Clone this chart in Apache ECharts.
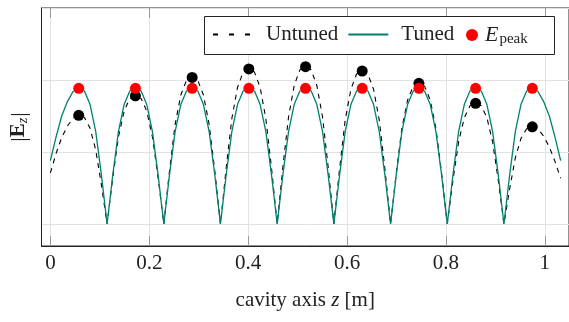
<!DOCTYPE html>
<html><head><meta charset="utf-8">
<script src="https://cdn.jsdelivr.net/npm/echarts@6/dist/echarts.min.js"></script>
<style>html,body{margin:0;padding:0;background:#fff}#c{width:569px;height:322px}</style>
</head><body><div id="c"></div>
<script>
// sample positions along the cavity axis z [m]
const zGrid = [
 0.0000,0.0115,0.0229,0.0344,0.0459,0.0573,0.0688,0.0803,0.0917,0.1032,
 0.1147,0.1261,0.1376,0.1491,0.1606,0.1720,0.1835,0.1950,0.2064,0.2179,
 0.2294,0.2408,0.2523,0.2638,0.2752,0.2867,0.2982,0.3096,0.3211,0.3326,
 0.3440,0.3555,0.3670,0.3784,0.3899,0.4014,0.4128,0.4243,0.4358,0.4473,
 0.4587,0.4702,0.4817,0.4931,0.5046,0.5161,0.5275,0.5390,0.5505,0.5619,
 0.5734,0.5849,0.5963,0.6078,0.6193,0.6307,0.6422,0.6537,0.6652,0.6766,
 0.6881,0.6995,0.7110,0.7225,0.7340,0.7454,0.7569,0.7684,0.7798,0.7913,
 0.8028,0.8142,0.8257,0.8372,0.8486,0.8601,0.8716,0.8830,0.8945,0.9060,
 0.9174,0.9289,0.9404,0.9518,0.9633,0.9748,0.9862,0.9977,1.0092,1.0206,
 1.0321];
// |E_z| of the tuned cavity (arbitrary units)
const tunedE = [
 0.88,1.21,1.50,1.70,1.84,1.885,1.847,1.659,1.282,0.679,
 0,0.679,1.282,1.659,1.847,1.885,1.847,1.659,1.282,0.679,
 0,0.679,1.282,1.659,1.847,1.885,1.847,1.659,1.282,0.679,
 0,0.679,1.282,1.659,1.847,1.885,1.847,1.659,1.282,0.679,
 0,0.679,1.282,1.659,1.847,1.885,1.847,1.659,1.282,0.679,
 0,0.679,1.282,1.659,1.847,1.885,1.847,1.659,1.282,0.679,
 0,0.679,1.282,1.659,1.847,1.885,1.847,1.659,1.282,0.679,
 0,0.679,1.282,1.659,1.847,1.885,1.847,1.659,1.282,0.679,
 0,0.679,1.282,1.659,1.847,1.885,1.84,1.70,1.50,1.21,
 0.88];
// |E_z| of the untuned cavity
const untunedE = [
 0.71,0.98,1.20,1.36,1.47,1.51,1.480,1.329,1.027,0.544,
 0,0.641,1.210,1.566,1.744,1.78,1.744,1.566,1.210,0.641,
 0,0.733,1.384,1.791,1.994,2.035,1.994,1.791,1.384,0.733,
 0,0.775,1.464,1.895,2.110,2.153,2.110,1.895,1.464,0.775,
 0,0.787,1.486,1.923,2.141,2.185,2.141,1.923,1.486,0.787,
 0,0.765,1.445,1.870,2.083,2.125,2.083,1.870,1.445,0.765,
 0,0.703,1.329,1.720,1.915,1.954,1.915,1.720,1.329,0.703,
 0,0.603,1.140,1.475,1.642,1.676,1.642,1.475,1.140,0.603,
 0,0.486,0.918,1.188,1.323,1.35,1.32,1.22,1.07,0.87,
 0.635];
// cell peaks
const peakZ = [0.0573,0.1720,0.2867,0.4014,0.5161,0.6307,0.7454,0.8601,0.9748];
const tunedPeak = [1.885,1.885,1.885,1.885,1.885,1.885,1.885,1.885,1.885];
const untunedPeak = [1.51,1.78,2.035,2.153,2.185,2.125,1.954,1.676,1.35];
// x tick values
const xTicks = [0, 0.2, 0.4, 0.6, 0.8, 1];

const F = 'Liberation Serif';
const pair = (xs, ys) => xs.map((x, i) => [x, ys[i]]);
const chart = echarts.init(document.getElementById('c'), null, {renderer: 'canvas'});
chart.setOption({
  animation: false,
  backgroundColor: '#fff',
  grid: {left: 41, top: 8, width: 532, height: 238, show: true, borderColor: '#222', borderWidth: 1, backgroundColor: 'transparent'},
  xAxis: [{
    type: 'value', min: -0.018, max: 1.049, splitNumber: 5, position: 'bottom',
    axisLine: {show: true, onZero: false, lineStyle: {color: '#222', width: 1}},
    axisTick: {show: true, inside: true, length: 10, customValues: xTicks, lineStyle: {color: '#999'}},
    axisLabel: {fontFamily: F, fontSize: 21, color: '#222', margin: 7, customValues: xTicks},
    splitLine: {show: true, lineStyle: {color: '#e2e2e2', width: 1}},
    name: '{r|cavity axis }{i|z}{r| [m]}', nameLocation: 'middle', nameGap: 44,
    nameTextStyle: {fontFamily: F, fontSize: 21, color: '#222',
      rich: {r: {fontFamily: F, fontSize: 21, color: '#222'}, i: {fontFamily: F, fontSize: 21, fontStyle: 'italic', color: '#222'}}}
  }, {
    type: 'value', min: -0.018, max: 1.049, splitNumber: 5, position: 'top',
    axisLine: {show: false, onZero: false},
    axisTick: {show: true, inside: true, length: 10, customValues: xTicks, lineStyle: {color: '#999'}},
    axisLabel: {show: false},
    splitLine: {show: false}
  }],
  yAxis: {
    type: 'value', min: -0.3056, max: 3.0, splitNumber: 4, position: 'left',
    axisLine: {show: true, onZero: false, lineStyle: {color: '#222', width: 1}},
    axisTick: {show: false},
    axisLabel: {show: false},
    splitLine: {show: true, lineStyle: {color: '#e2e2e2', width: 1}},
    name: '{b||}{E|E}{z|z}{b||}', nameLocation: 'middle', nameGap: 11, nameRotate: 90,
    nameTextStyle: {fontFamily: F, fontSize: 21, color: '#222',
      rich: {
        b: {fontFamily: F, fontSize: 22, color: '#222'},
        E: {fontFamily: F, fontSize: 21, fontWeight: 'bold', color: '#222'},
        z: {fontFamily: F, fontSize: 14, fontStyle: 'italic', color: '#222', padding: [9, 1, 0, 0]}
      }}
  },
  graphic: [{
    type: 'rect', z: 3, silent: true,
    shape: {x: 204.5, y: 16.5, width: 350, height: 38},
    style: {fill: '#fff', stroke: '#222', lineWidth: 1}
  }],
  legend: [{
    left: 212, top: 24, padding: 0, itemGap: 9, itemWidth: 40, itemHeight: 14, z: 5,
    data: [
      {name: 'Untuned', lineStyle: {type: [5, 11]}, itemStyle: {opacity: 0}},
      {name: 'Tuned', itemStyle: {opacity: 0}}
    ],
    textStyle: {fontFamily: F, fontSize: 21, color: '#222', padding: [0, 0, 0, 8]}
  }, {
    left: 466, top: 24, padding: 0, itemWidth: 12, itemHeight: 12, z: 5,
    data: [{name: 'E_peak', itemStyle: {color: '#ff0000', opacity: 1}}],
    formatter: () => '{e|E}{s|peak}',
    textStyle: {fontFamily: F, fontSize: 21, color: '#222', padding: [0, 0, 0, 2],
      rich: {e: {fontFamily: F, fontSize: 22, fontStyle: 'italic', color: '#222'},
             s: {fontFamily: F, fontSize: 15, color: '#222', padding: [8, 0, 0, 1]}}}
  }],
  series: [{
    name: 'Untuned', type: 'line', data: pair(zGrid, untunedE), symbol: 'none', showSymbol: false, z: 2,
    color: '#000', lineStyle: {color: '#000', width: 1.1, type: [5, 5]}
  }, {
    name: 'Tuned', type: 'line', data: pair(zGrid, tunedE), symbol: 'none', showSymbol: false, z: 2,
    color: '#00806e', lineStyle: {color: '#00806e', width: 1.3}
  }, {
    name: 'untuned peaks', type: 'scatter', data: pair(peakZ, untunedPeak), symbolSize: 11, z: 2,
    itemStyle: {color: '#000', opacity: 1}
  }, {
    name: 'E_peak', type: 'scatter', data: pair(peakZ, tunedPeak), symbolSize: 11, z: 2,
    itemStyle: {color: '#ff0000', opacity: 1}
  }]
});
</script></body></html>
